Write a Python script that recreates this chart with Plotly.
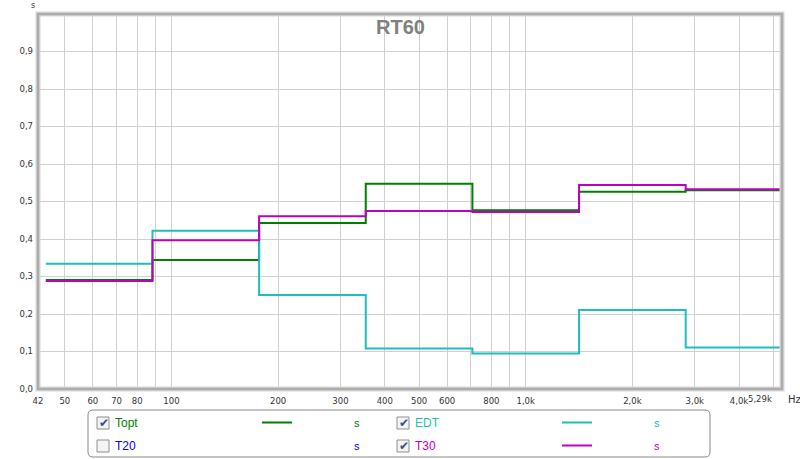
import numpy as np
import plotly.graph_objects as go

# ---- data ----
band_labels = ["63", "125", "250", "500", "1k", "2k", "4k"]
band_centers = [62.5, 125, 250, 500, 1000, 2000, 4000]
series_names = ["Topt", "EDT", "T30"]
topt = [0.291, 0.344, 0.443, 0.547, 0.477, 0.526, 0.530]
edt = [0.334, 0.422, 0.251, 0.108, 0.095, 0.211, 0.111]
t30 = [0.288, 0.397, 0.461, 0.475, 0.472, 0.544, 0.533]
series_colors = ["#008000", "#1fbdbd", "#bf00bf"]

x_tick_vals = [42, 50, 60, 70, 80, 100, 200, 300, 400, 500, 600, 800, 1000, 2000, 3000, 4000]
x_tick_text = ["42", "50", "60", "70", "80", "100", "200", "300", "400", "500", "600", "800",
               "1,0k", "2,0k", "3,0k", "4,0k"]
x_minor_vals = [90, 700, 900, 5000]
x_min, x_max = 42, 5290
y_tick_vals = [0, 0.1, 0.2, 0.3, 0.4, 0.5, 0.6, 0.7, 0.8, 0.9, 1.0]
y_tick_text = ["0,0", "0,1", "0,2", "0,3", "0,4", "0,5", "0,6", "0,7", "0,8", "0,9", ""]

legend_entries = [  # name, color, checked, column, row, has_line
    ("Topt", "#008000", True, 0, 0, True),
    ("T20", "#0000ff", False, 0, 1, False),
    ("EDT", "#1fbdbd", True, 1, 0, True),
    ("T30", "#bf00bf", True, 1, 1, True),
]

# ---- layout geometry (pixels) ----
L, R, T, B = 38, 782, 14, 389
W, H = R - L, B - T


def px(x):
    return (x - L) / W


def py(y):
    return (B - y) / H


fig = go.Figure()

edges = [c / np.sqrt(2) for c in band_centers] + [band_centers[-1] * np.sqrt(2)]
for name, vals, col in zip(series_names, [topt, edt, t30], series_colors):
    fig.add_trace(go.Scatter(
        x=edges, y=list(vals) + [vals[-1]], mode="lines", name=name,
        line=dict(color=col, width=2, shape="hv"), hoverinfo="skip"))

tick_font = dict(family="DejaVu Sans", size=8.5, color="#333333")

fig.update_layout(
    width=800, height=459,
    margin=dict(l=L, r=800 - R, t=T, b=459 - B),
    paper_bgcolor="white", plot_bgcolor="white",
    showlegend=False,
    xaxis=dict(type="log", range=[np.log10(x_min), np.log10(x_max)],
               tickmode="array", tickvals=x_tick_vals, ticktext=x_tick_text,
               showgrid=True, gridcolor="#d0d0d0", gridwidth=1,
               minor=dict(tickmode="array", tickvals=x_minor_vals, showgrid=True,
                          gridcolor="#d0d0d0", gridwidth=1, ticks=""),
               ticks="", ticklabelstandoff=5, tickfont=tick_font,
               zeroline=False, showline=False),
    yaxis=dict(range=[0, 1.0], tickmode="array", tickvals=y_tick_vals, ticktext=y_tick_text,
               showgrid=True, gridcolor="#d0d0d0", gridwidth=1,
               ticks="", ticklabelstandoff=4, tickfont=tick_font,
               zeroline=False, showline=False),
)

shapes = []
# plot frame (soft shadow + border)
shapes.append(dict(type="rect", xref="paper", yref="paper", x0=0, x1=1, y0=0, y1=1,
                   line=dict(color="#d8d8d8", width=5), layer="above"))
shapes.append(dict(type="rect", xref="paper", yref="paper", x0=0, x1=1, y0=0, y1=1,
                   line=dict(color="#acacac", width=2.5), layer="above"))

annotations = []


def ann(x, y, text, font, xanchor="center", xref="paper", xshift=0):
    annotations.append(dict(xref=xref, yref="paper", x=x, y=y, text=text, showarrow=False,
                            xanchor=xanchor, yanchor="middle", xshift=xshift, font=font))


# title
ann(px(400), py(27), "<b>RT60</b>", dict(family="Liberation Sans", size=20, color="#808080"))
# y unit
ann(px(33), py(6), "s", dict(family="DejaVu Sans", size=8, color="#333333"))
# last x tick + unit
ann(np.log10(x_max), py(399), "5,29k", tick_font, xanchor="right", xref="x", xshift=-8)
ann(np.log10(x_max), py(399), "Hz", dict(family="DejaVu Sans", size=10, color="#333333"),
    xanchor="left", xref="x", xshift=4)

# legend box (rounded)
lx0, lx1, ly0, ly1, r = 88, 710, 410, 457, 5
path = (f"M {px(lx0 + r)},{py(ly0)} L {px(lx1 - r)},{py(ly0)} "
        f"Q {px(lx1)},{py(ly0)} {px(lx1)},{py(ly0 + r)} L {px(lx1)},{py(ly1 - r)} "
        f"Q {px(lx1)},{py(ly1)} {px(lx1 - r)},{py(ly1)} L {px(lx0 + r)},{py(ly1)} "
        f"Q {px(lx0)},{py(ly1)} {px(lx0)},{py(ly1 - r)} L {px(lx0)},{py(ly0 + r)} "
        f"Q {px(lx0)},{py(ly0)} {px(lx0 + r)},{py(ly0)} Z")
shapes.append(dict(type="path", xref="paper", yref="paper", path=path,
                   line=dict(color="#8a8a8a", width=1), fillcolor="white"))

col_offsets = [0, 300]
row_y = [423, 446]
for name, colr, checked, c, rw, has_line in legend_entries:
    ox = col_offsets[c]
    cy = row_y[rw]
    shapes.append(dict(type="rect", xref="paper", yref="paper",
                       x0=px(97 + ox), x1=px(109 + ox), y0=py(cy - 6), y1=py(cy + 6),
                       line=dict(color="#8e8f8f", width=1), fillcolor="#f4f4f4"))
    if checked:
        ann(px(103.5 + ox), py(cy), "<b>✔</b>",
            dict(family="DejaVu Sans", size=12, color="#3c4e8c"))
    ann(px(113 + ox), py(cy), name, dict(family="Liberation Sans", size=12, color=colr),
        xanchor="left")
    if has_line:
        shapes.append(dict(type="line", xref="paper", yref="paper",
                           x0=px(262 + ox), x1=px(292 + ox), y0=py(cy - 0.5), y1=py(cy - 0.5),
                           line=dict(color=colr, width=2)))
    ann(px(357 + ox), py(cy), "s", dict(family="Liberation Sans", size=11, color=colr))

fig.update_layout(shapes=shapes, annotations=annotations)
fig.write_html("out.html", config={"displayModeBar": False},
               post_script="document.body.style.margin='0px';")
